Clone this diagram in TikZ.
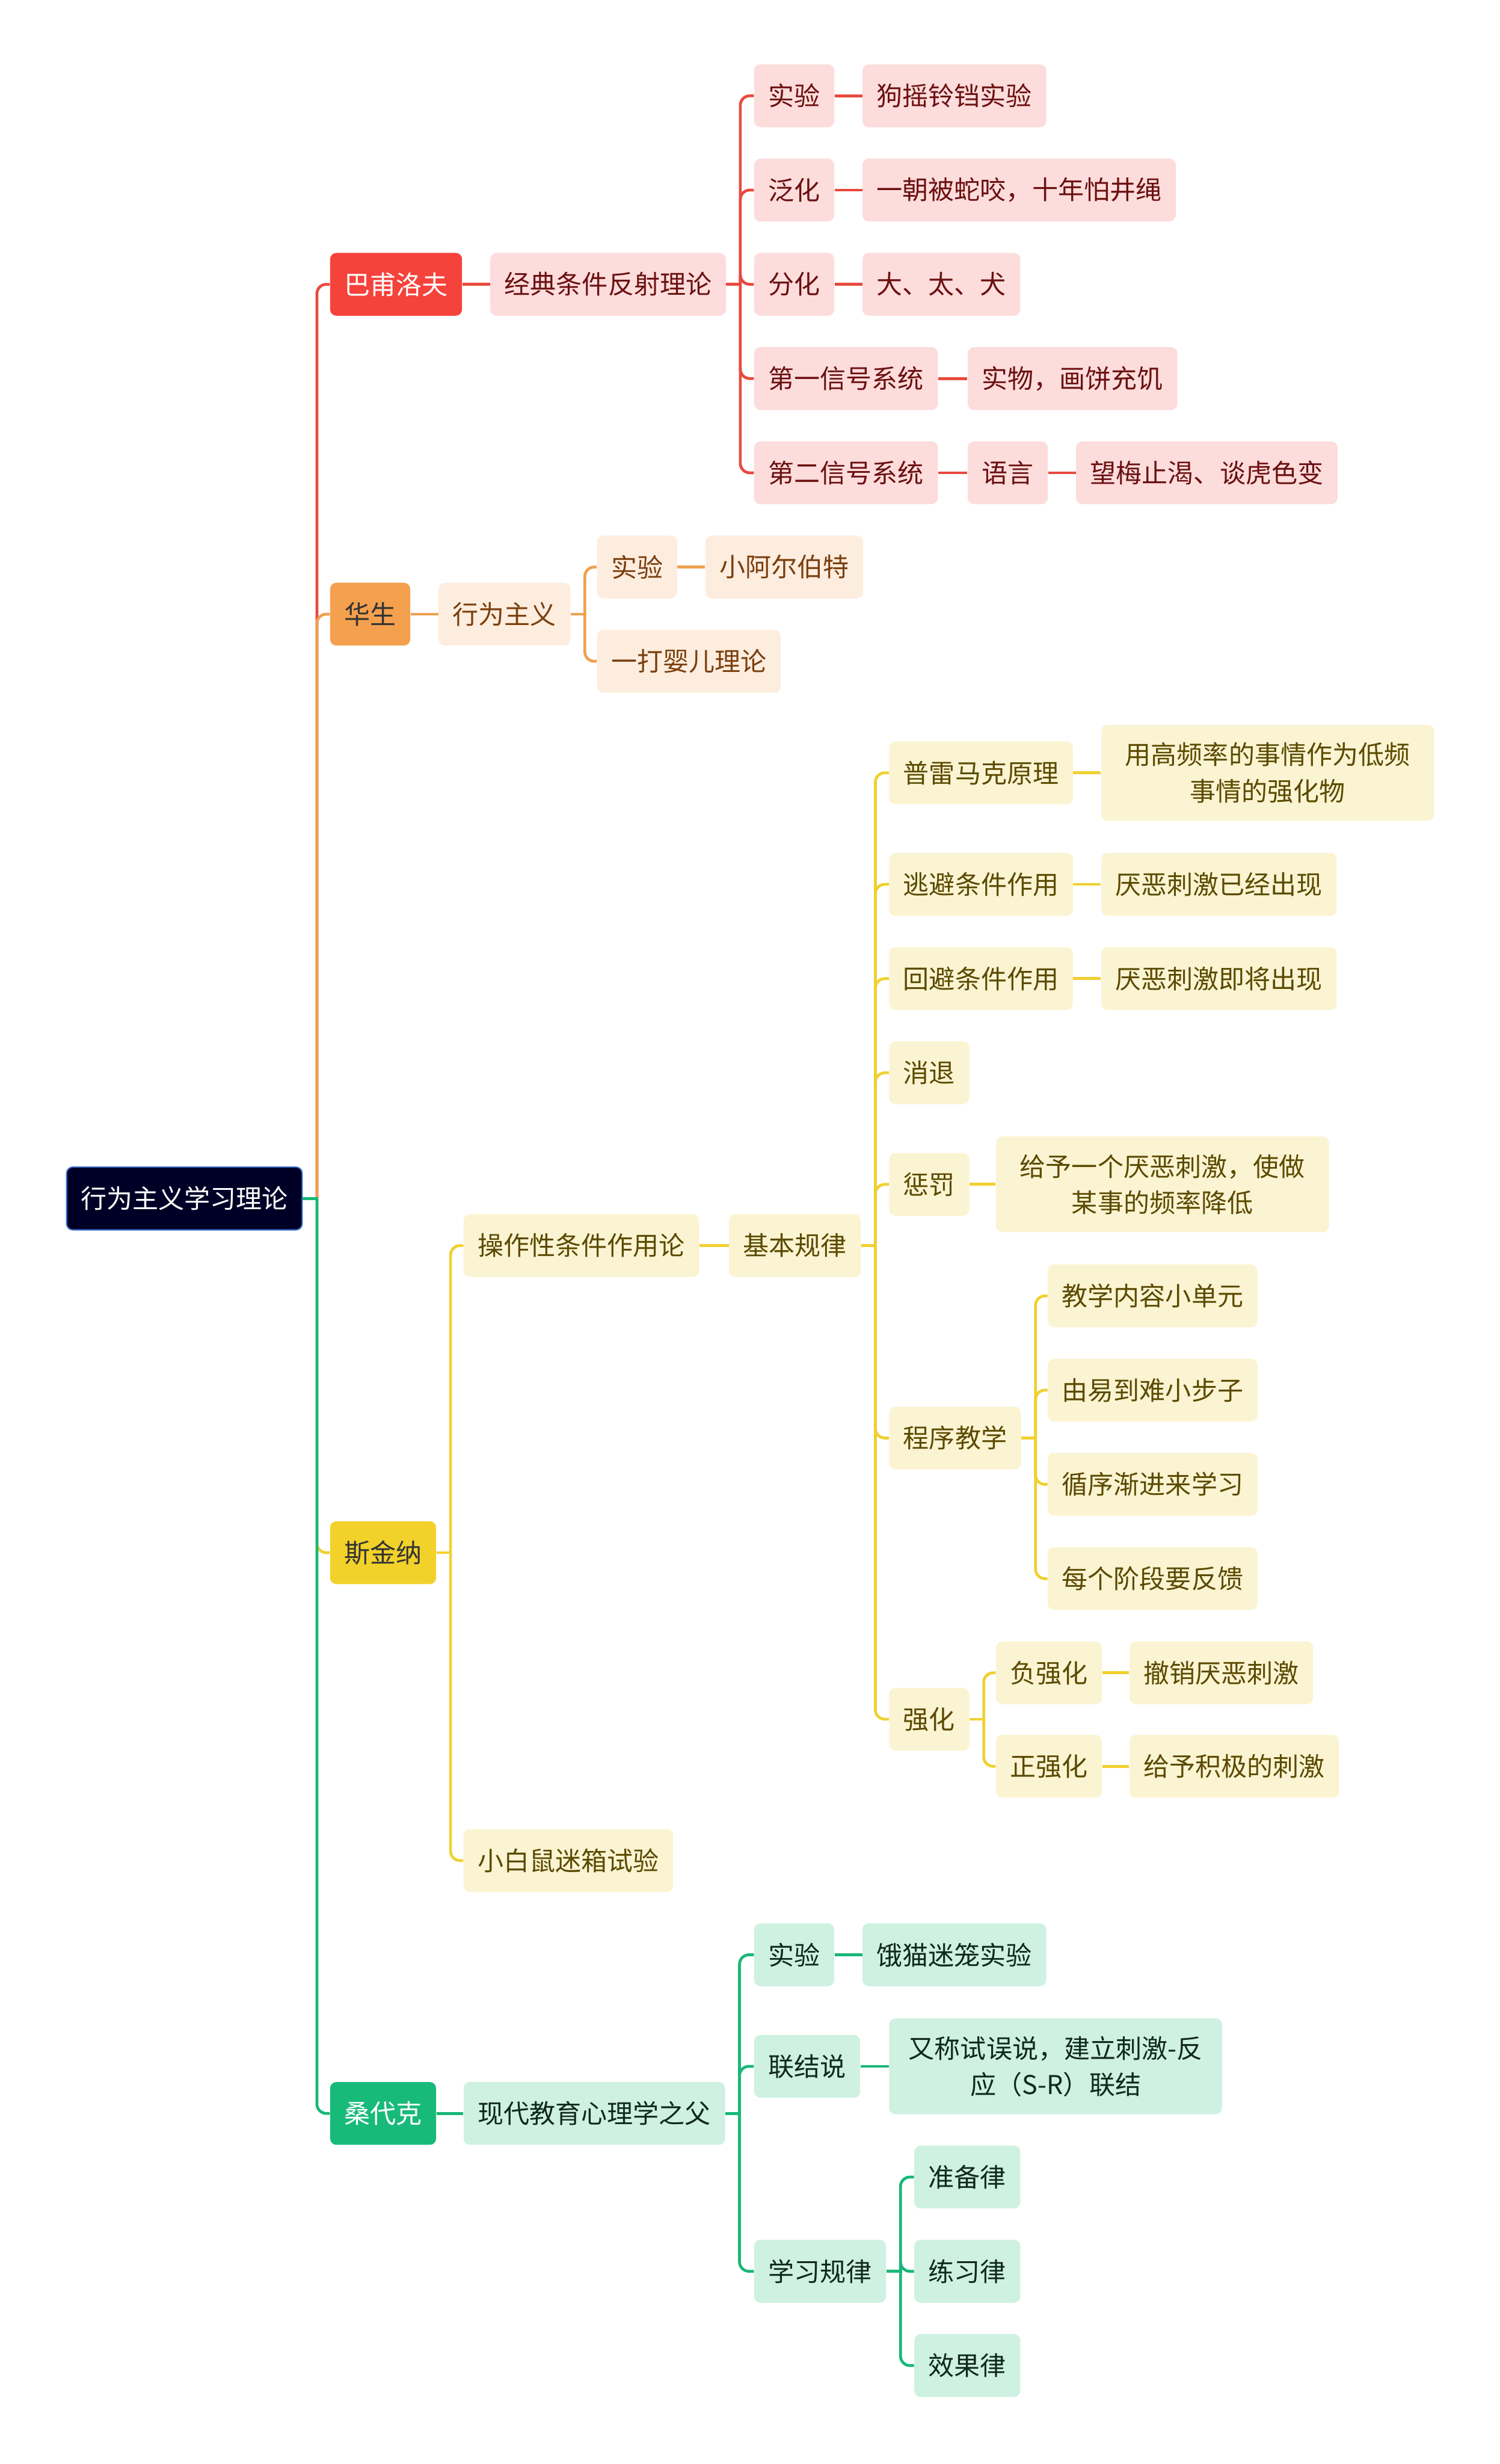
\documentclass[tikz,border=0pt]{standalone}
\usepackage{fontspec}
\setmainfont{Noto Sans CJK SC}
\usetikzlibrary{calc}
\definecolor{rootfill}{HTML}{000026}
\definecolor{rootline}{HTML}{3B6CC6}
\definecolor{redA}{HTML}{F5423A}
\definecolor{redL}{HTML}{E84A3F}
\definecolor{redF}{HTML}{FDDCDC}
\definecolor{redT}{HTML}{6B1010}
\definecolor{orA}{HTML}{F4A04E}
\definecolor{orL}{HTML}{F0A050}
\definecolor{orF}{HTML}{FDEDDF}
\definecolor{orT}{HTML}{7B3F0D}
\definecolor{yeA}{HTML}{F2D22A}
\definecolor{yeL}{HTML}{F0D030}
\definecolor{yeF}{HTML}{FBF4D2}
\definecolor{yeT}{HTML}{5B4A00}
\definecolor{grA}{HTML}{18BA7A}
\definecolor{grL}{HTML}{18B878}
\definecolor{grF}{HTML}{CEF1E1}
\definecolor{grT}{HTML}{10291C}
\newcommand\fork[3]{%
  \draw[#1] (#2.east) -- ($(#2.east)+(9.9,0)$);
  \foreach \cc in {#3}{\draw[#1,rounded corners=6pt] ($(#2.east)+(9,0)$) |- (\cc.west);}
}
\begin{document}
\begin{tikzpicture}[x=1pt,y=-1pt,
  box/.style={rounded corners=4pt, inner xsep=9pt, inner ysep=0pt, minimum height=40pt,
    font=\fontsize{16.5}{23}\selectfont, anchor=west},
  multi/.style={text width=182pt, inner xsep=15pt, align=center, minimum height=61pt},
  rootbox/.style={box, fill=rootfill, draw=rootline, line width=0.8pt, text=white},
  pA/.style={box, fill=redA, text=white},
  pB/.style={box, fill=redF, text=redT},
  wA/.style={box, fill=orA, text=black!80},
  wB/.style={box, fill=orF, text=orT},
  sA/.style={box, fill=yeA, text=black!80},
  sB/.style={box, fill=yeF, text=yeT},
  tA/.style={box, fill=grA, text=white},
  tB/.style={box, fill=grF, text=grT},
  lr/.style={draw=redL, line width=1.8pt},
  lo/.style={draw=orL, line width=1.8pt},
  ly/.style={draw=yeL, line width=1.8pt},
  lg/.style={draw=grL, line width=1.8pt}
]
\useasboundingbox (0,0) rectangle (955,1568.7);

% root
\node[rootbox] (root) at (42,763) {行为主义学习理论};

% Pavlov
\node[pA] (p1) at (210,181) {巴甫洛夫};
\node[pB] (p2) at (312,181) {经典条件反射理论};
\node[pB] (p3a) at (480,61) {实验};
\node[pB] (p3b) at (480,121) {泛化};
\node[pB] (p3c) at (480,181) {分化};
\node[pB] (p3d) at (480,241) {第一信号系统};
\node[pB] (p3e) at (480,301) {第二信号系统};
\node[pB] (p4a) at (549,61) {狗摇铃铛实验};
\node[pB] (p4b) at (549,121) {一朝被蛇咬，十年怕井绳};
\node[pB] (p4c) at (549,181) {大、太、犬};
\node[pB] (p4d) at (616,241) {实物，画饼充饥};
\node[pB] (p4e) at (616,301) {语言};
\node[pB] (p5) at (685,301) {望梅止渴、谈虎色变};

% Watson
\node[wA] (w1) at (210,391) {华生};
\node[wB] (w2) at (279,391) {行为主义};
\node[wB] (w3a) at (380,361) {实验};
\node[wB] (w4) at (449,361) {小阿尔伯特};
\node[wB] (w3b) at (380,421) {一打婴儿理论};

% Skinner
\node[sA] (s1) at (210,988.5) {斯金纳};
\node[sB] (s2) at (295,793) {操作性条件作用论};
\node[sB] (s2b) at (295,1184.5) {小白鼠迷箱试验};
\node[sB] (s3) at (464,793) {基本规律};
\node[sB] (s4a) at (566,492) {普雷马克原理};
\node[sB,multi] (s5a) at (701,492) {用高频率的事情作为低频\\事情的强化物};
\node[sB] (s4b) at (566,563) {逃避条件作用};
\node[sB] (s5b) at (701,563) {厌恶刺激已经出现};
\node[sB] (s4c) at (566,623) {回避条件作用};
\node[sB] (s5c) at (701,623) {厌恶刺激即将出现};
\node[sB] (s4d) at (566,683) {消退};
\node[sB] (s4e) at (566,754) {惩罚};
\node[sB,multi] (s5e) at (634,754) {给予一个厌恶刺激，使做\\某事的频率降低};
\node[sB] (s4f) at (566,915.5) {程序教学};
\node[sB] (s6a) at (667,825) {教学内容小单元};
\node[sB] (s6b) at (667,885) {由易到难小步子};
\node[sB] (s6c) at (667,945) {循序渐进来学习};
\node[sB] (s6d) at (667,1005) {每个阶段要反馈};
\node[sB] (s4g) at (566,1094.5) {强化};
\node[sB] (s7a) at (634,1065) {负强化};
\node[sB] (s8a) at (719,1065) {撤销厌恶刺激};
\node[sB] (s7b) at (634,1124.5) {正强化};
\node[sB] (s8b) at (719,1124.5) {给予积极的刺激};

% Thorndike
\node[tA] (t1) at (210,1345.5) {桑代克};
\node[tB] (t2) at (295,1345.5) {现代教育心理学之父};
\node[tB] (t3a) at (480,1244.5) {实验};
\node[tB] (t4a) at (549,1244.5) {饿猫迷笼实验};
\node[tB] (t3b) at (480,1315.5) {联结说};
\node[tB,multi,text width=196pt,inner xsep=8pt] (t4b) at (566,1315.5) {\mbox{又称试误说，建立刺激-反}\\应（S-R）联结};
\node[tB] (t3c) at (480,1446) {学习规律};
\node[tB] (t5a) at (582,1386) {准备律};
\node[tB] (t5b) at (582,1446) {练习律};
\node[tB] (t5c) at (582,1506) {效果律};

% trunk
\fork{lr}{root}{p1}
\fork{lo}{root}{w1}
\fork{ly}{root}{s1}
\fork{lg}{root}{t1}

% Pavlov connectors
\draw[lr] (p1.east) -- (p2.west);
\fork{lr}{p2}{p3a,p3b,p3c,p3d,p3e}
\draw[lr] (p3a.east) -- (p4a.west);
\draw[lr] (p3b.east) -- (p4b.west);
\draw[lr] (p3c.east) -- (p4c.west);
\draw[lr] (p3d.east) -- (p4d.west);
\draw[lr] (p3e.east) -- (p4e.west);
\draw[lr] (p4e.east) -- (p5.west);

% Watson connectors
\draw[lo] (w1.east) -- (w2.west);
\fork{lo}{w2}{w3a,w3b}
\draw[lo] (w3a.east) -- (w4.west);

% Skinner connectors
\fork{ly}{s1}{s2,s2b}
\draw[ly] (s2.east) -- (s3.west);
\fork{ly}{s3}{s4a,s4b,s4c,s4d,s4e,s4f,s4g}
\draw[ly] (s4a.east) -- (s5a.west);
\draw[ly] (s4b.east) -- (s5b.west);
\draw[ly] (s4c.east) -- (s5c.west);
\draw[ly] (s4e.east) -- (s5e.west);
\fork{ly}{s4f}{s6a,s6b,s6c,s6d}
\fork{ly}{s4g}{s7a,s7b}
\draw[ly] (s7a.east) -- (s8a.west);
\draw[ly] (s7b.east) -- (s8b.west);

% Thorndike connectors
\draw[lg] (t1.east) -- (t2.west);
\fork{lg}{t2}{t3a,t3b,t3c}
\draw[lg] (t3a.east) -- (t4a.west);
\draw[lg] (t3b.east) -- (t4b.west);
\fork{lg}{t3c}{t5a,t5b,t5c}
\end{tikzpicture}
\end{document}
